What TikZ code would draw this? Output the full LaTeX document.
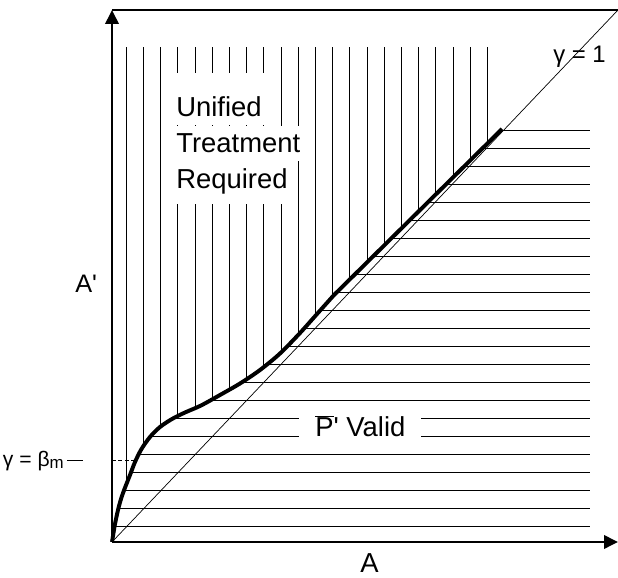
\documentclass[tikz,border=0pt]{standalone}
\usepackage{fontspec}
\setmainfont{Liberation Sans}
\usetikzlibrary{arrows.meta}

% boundary between the two regions
\newcommand{\validedge}{plot[smooth, tension=0.5] coordinates {(0,0) (1,6) (3,18) (6,32) (9,43) (12.5,53) (18,67) (23,80) (29.5,93) (38,105) (48,115) (60,123) (73,129.5) (89,136.5) (108,147) (128,158.5) (148,172) (168,188.5) (188,209) (205,228) (222,247)} -- (390,413)}

\begin{document}
\begin{tikzpicture}[x=0.025cm, y=0.025cm,
    axis/.style={line width=1.1pt, -{Triangle[length=0.35cm, width=0.34cm]}},
    hatch/.style={line width=0.6pt},
    boundary/.style={line width=2.8pt},
    gap/.style={fill=white, inner xsep=0.125cm, inner ysep=0pt, font=\fontsize{19.5}{24}\selectfont},
    tag/.style={inner sep=0pt, font=\fontsize{18}{22}\selectfont}
]
    \useasboundingbox (-112,-36) rectangle (506,542);

    % Frame points
    \coordinate (O) at (0,0);
    \coordinate (ytop) at (0,532);
    \coordinate (xend) at (506,0);
    \coordinate (corner) at (506,532);

    % Vertical hatching
    \begin{scope}
        \clip \validedge -- (390,600) -- (0,600) -- cycle;
        \foreach \i in {0,...,21}
            \draw[hatch] ({14.3+17.2*\i},0) -- ({14.3+17.2*\i},495);
    \end{scope}

    % Horizontal hatching
    \begin{scope}
        \clip \validedge -- (395,418) -- (600,418) -- (600,-5) -- (0,-5) -- cycle;
        \foreach \i in {0,...,22}
            \draw[hatch] (0,{16+18*\i}) -- (478,{16+18*\i});
    \end{scope}

    % Axes
    \draw[axis] (O) -- (ytop);
    \draw[axis] (O) -- (xend);
    \draw[line width=1pt] (ytop) -- (corner);
    \draw[line width=0.5pt] (O) -- (corner);

    % Boundary
    \draw[boundary] \validedge;

    % Region labels
    \node[gap, anchor=base west, text height=1.1cm, text depth=0.2cm] (unified) at (59,425) {Unified};
    \node[gap, anchor=north west, text height=0.675cm, text depth=0.2cm] (treatment) at (unified.south west) {Treatment};
    \node[gap, anchor=north west, text height=0.675cm, text depth=0.4cm] (required) at (treatment.south west) {Required};
    \node[gap, inner xsep=0.4cm, anchor=base west, text height=0.75cm, text depth=0.15cm] (valid) at (187,105.3) {$\overline{\hbox{P}}$\textquotesingle\ Valid};

    % Axis labels
    \node[tag, anchor=base west] (aprime) at (-37,249) {A\textquotesingle};
    \node[tag, font=\fontsize{19.5}{24}\selectfont, anchor=base] (alabel) at (257.5,-31) {A};
    \node[tag, font=\fontsize{17}{20}\selectfont, anchor=base west] (unity) at (441,479) {γ = 1};

    % Marked level
    \coordinate (bm) at (0,81.3);
    \coordinate (bmc) at (23,81.3);
    \coordinate (tickl) at (-45,81.3);
    \coordinate (tickr) at (-29,81.3);
    \draw[line width=0.8pt, dash pattern=on 0.1cm off 0.06cm] (bm) -- (bmc);
    \draw[line width=1pt] (tickl) -- (tickr);
    \node[tag, font=\fontsize{15}{18}\selectfont, anchor=base east] (beta) at (-48,75.3) {γ = β\raisebox{-0.05cm}{\fontsize{12}{12}\selectfont m}};

\end{tikzpicture}
\end{document}
